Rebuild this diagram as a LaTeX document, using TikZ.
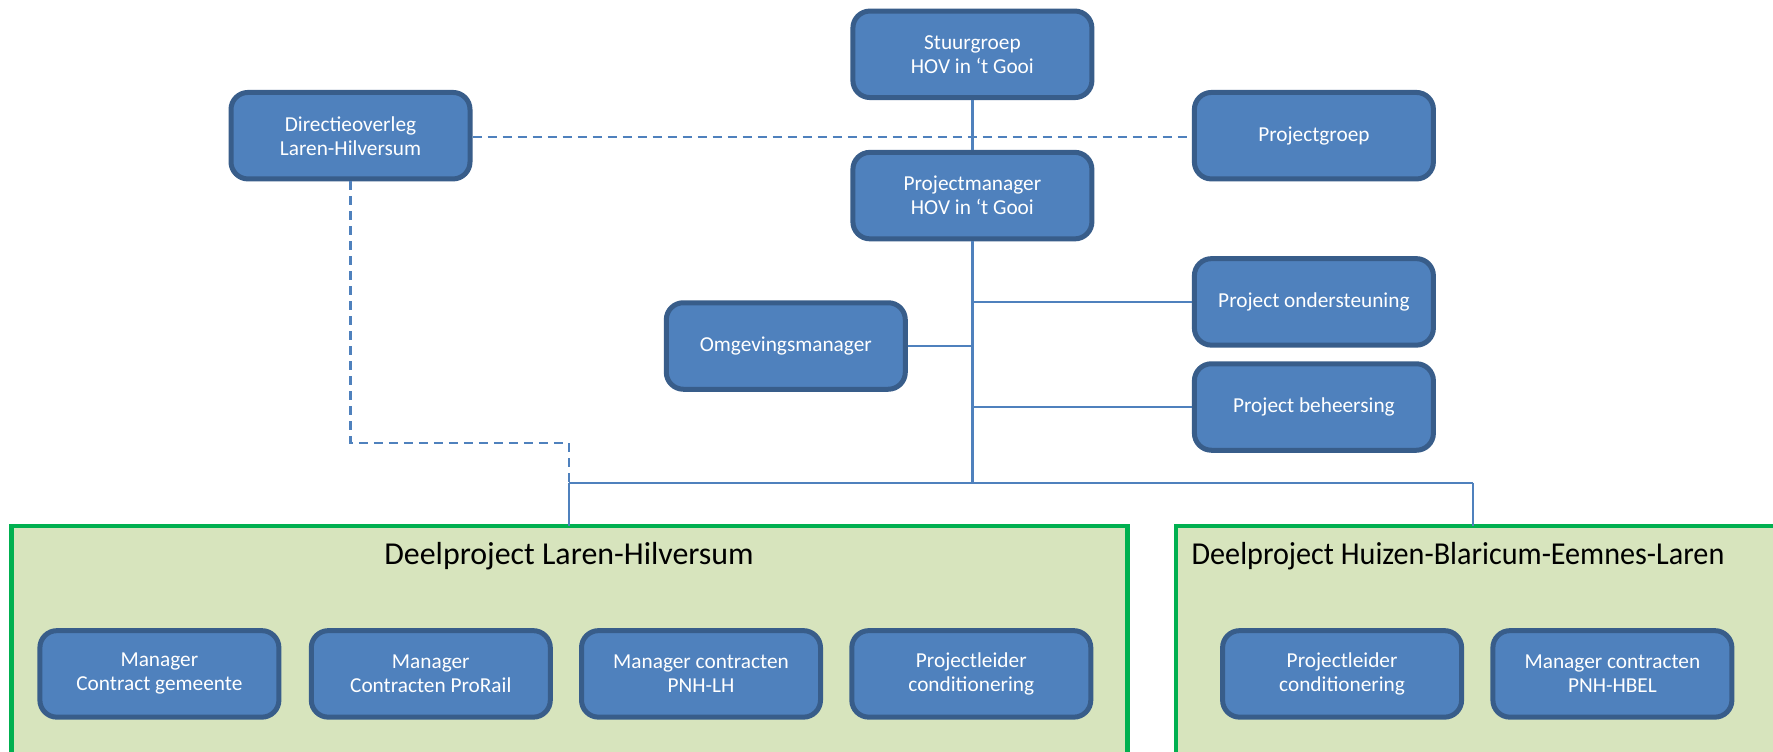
\documentclass[tikz,border=0pt]{standalone}
\usepackage{fontspec}
\setmainfont{Carlito}
\definecolor{boxfill}{HTML}{4F81BD}
\definecolor{boxline}{HTML}{385D8A}
\definecolor{linkline}{HTML}{4F81BD}
\definecolor{grpline}{HTML}{00B050}
\definecolor{grpfill}{HTML}{D7E4BD}
\begin{document}
\begin{tikzpicture}[x=1pt,y=-1pt,
  orgbox/.style={draw=boxline, line width=5pt, fill=boxfill, rounded corners=17pt,
    minimum width=239pt, minimum height=86.5pt, text=white, align=center,
    font=\fontsize{21.3}{24}\selectfont, inner sep=0pt},
  grpbox/.style={draw=grpline, line width=4.5pt, fill=grpfill},
  grptitle/.style={font=\fontsize{31.9}{36}\selectfont, text=black, inner sep=0pt, anchor=base},
  link/.style={draw=linkline, line width=2.2pt},
  dlink/.style={draw=linkline, line width=2.2pt, dash pattern=on 9pt off 6pt}]
\useasboundingbox (0,0) rectangle (1773,752);
\clip (0,0) rectangle (1773,752);
\fill[white] (0,0) rectangle (1773,752);
% group boxes
\draw[grpbox] (11.3,525.8) rectangle (1127.3,800);
\draw[grpbox] (1175.9,525.8) rectangle (1820,800);
\node[grptitle] (t1) at (569,564) {Deelproject Laren-Hilversum};
\node[grptitle] (t2) at (1458,564) {\scalebox{0.946}[1]{Deelproject Huizen-Blaricum-Eemnes-Laren}};
\coordinate (g1top) at (568.7,525.8);
\coordinate (g2top) at (1473.3,525.8);
\coordinate (pmdown) at (972.4,482.8);
\coordinate (b1) at (568.7,482.8);
\coordinate (b2) at (1473.3,482.8);
\coordinate (d1) at (350.5,443.2);
\coordinate (d2) at (568.7,443.2);
\coordinate (j1) at (972.4,301.9);
\coordinate (j2) at (972.4,346);
\coordinate (j3) at (972.4,407);
% boxes
\node[orgbox] (stuur) at (972.4,54.3) {Stuurgroep\\HOV in `t Gooi};
\node[orgbox] (dir) at (350.5,135.7) {Directieoverleg\\Laren-Hilversum};
\node[orgbox] (pgroep) at (1313.9,135.7) {Projectgroep};
\node[orgbox] (pm) at (972.4,195.6) {Projectmanager\\HOV in `t Gooi};
\node[orgbox] (omg) at (785.8,346) {Omgevingsmanager};
\node[orgbox] (onder) at (1313.9,301.9) {Project ondersteuning};
\node[orgbox] (beh) at (1313.9,407) {Project beheersing};
\node[orgbox] (m1) at (159.4,673.9) {Manager\\Contract gemeente};
\node[orgbox] (m2) at (430.8,673.9) {Manager\\Contracten ProRail};
\node[orgbox] (m3) at (701,673.9) {Manager contracten\\PNH-LH};
\node[orgbox] (m4) at (971.3,673.9) {Projectleider\\conditionering};
\node[orgbox] (m5) at (1342.1,673.9) {Projectleider\\conditionering};
\node[orgbox] (m6) at (1612.4,673.9) {Manager contracten\\PNH-HBEL};
% lines
\path[link] (stuur.south) -- (pm.north);
\path[dlink] (dir.east |- 0,136.8) -- (pgroep.west |- 0,136.8);
\path[link] (pm.south) -- (pmdown);
\path[link] (j1) -- (onder.west |- j1);
\path[link] (j3) -- (beh.west |- j3);
\path[link] (omg.east |- j2) -- (j2);
\path[link] (b1) -- (b2);
\path[link] (b1) -- (g1top);
\path[link] (b2) -- (g2top);
\path[dlink] (dir.south) -- (d1) -- (d2) -- (g1top);
\end{tikzpicture}
\end{document}
